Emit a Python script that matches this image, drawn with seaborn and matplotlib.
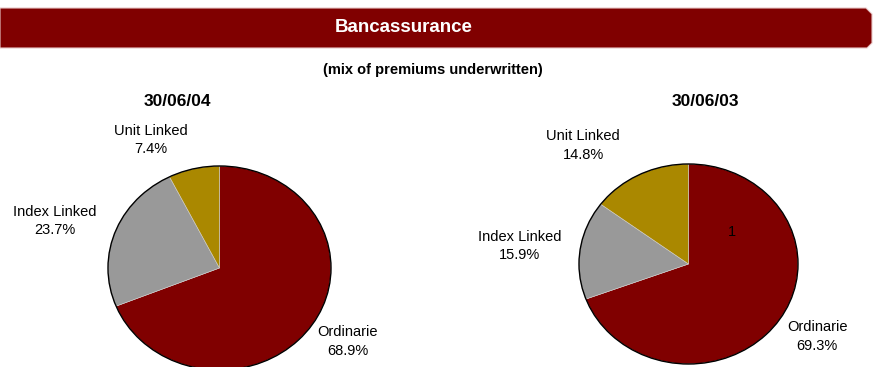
import matplotlib
matplotlib.use("Agg")
import matplotlib.pyplot as plt
from matplotlib.patches import Ellipse, Polygon
import seaborn as sns

sns.set_theme(style="white")
plt.rcParams["font.family"] = ["Liberation Sans", "DejaVu Sans"]
plt.rcParams["text.color"] = "black"

# Premium mix by product line
categories = ["Ordinarie", "Index Linked", "Unit Linked"]
share_2004 = [68.9, 23.7, 7.4]
share_2003 = [69.3, 15.9, 14.8]
dates = ["30/06/04", "30/06/03"]
title = "Bancassurance"
subtitle = "(mix of premiums underwritten)"

colors = sns.color_palette(["#800000", "#999999", "#AA8800"])

W, H = 874, 367
fig = plt.figure(figsize=(W / 100, H / 100), dpi=100)
fig.patch.set_facecolor("white")

# Banner across the top with a chamfered right end
ban = fig.add_axes([0, 0, 1, 1])
ban.set_xlim(0, W)
ban.set_ylim(H, 0)
ban.axis("off")
ban.set_zorder(-1)
ban.add_patch(Polygon([[0, 8], [866, 8], [872, 14], [872, 43], [867, 48], [0, 48]],
                      closed=True, facecolor="#800000", edgecolor="#e8c8c8", lw=0.8))
ban.text(404, 28, title, color="white", fontsize=13.5, fontweight="bold",
         ha="center", va="center")
ban.text(433, 70, subtitle, fontsize=10.5, fontweight="bold",
         ha="center", va="center")


def px_axes(cx, cy, rx, ry):
    return fig.add_axes([(cx - rx) / W, (H - cy - ry) / H, 2 * rx / W, 2 * ry / H])


def draw_pie(ax, values, label_pos, extra=None):
    ax.pie(values, colors=colors, startangle=90, counterclock=False,
           wedgeprops=dict(linewidth=0.4, edgecolor="#d0d0d0"), radius=1)
    ax.add_patch(Ellipse((0, 0), 2, 2, facecolor="none", edgecolor="black", lw=1.0,
                         clip_on=False))
    ax.set_aspect("auto")
    ax.set_xlim(-1, 1)
    ax.set_ylim(-1, 1)
    ax.axis("off")
    for cat, val, (x, y) in zip(categories, values, label_pos):
        ax.text(x, y, f"{cat}\n{val:.1f}%", ha="center", va="center",
                fontsize=10.5, linespacing=1.45, clip_on=False)
    if extra is not None:
        ax.text(extra[0], extra[1], extra[2], ha="center", va="center", fontsize=10.5)


ax1 = px_axes(219.5, 268, 111.5, 102)
draw_pie(ax1, share_2004, [(1.152, -0.716), (-1.475, 0.461), (-0.614, 1.255)])
ax2 = px_axes(688.5, 264, 109.5, 100)
draw_pie(ax2, share_2003, [(1.174, -0.725), (-1.539, 0.18), (-0.963, 1.185)],
         extra=(0.397, 0.32, "1"))

ban.text(177, 101, dates[0], fontsize=12.5, fontweight="bold", ha="center", va="center")
ban.text(705.5, 101, dates[1], fontsize=12.5, fontweight="bold", ha="center", va="center")

fig.savefig("out.png", dpi=100, facecolor="white")
